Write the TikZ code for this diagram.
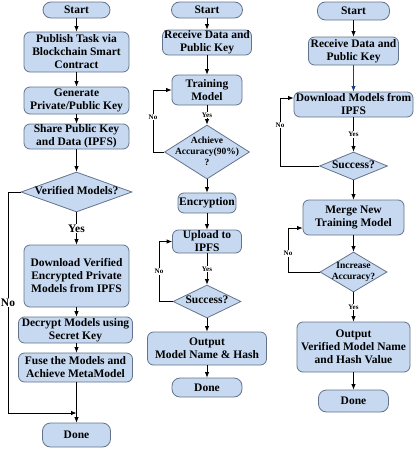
\documentclass[tikz,border=0pt]{standalone}
\usepackage{fontspec}
\setmainfont{Liberation Serif}
\usetikzlibrary{shapes.geometric,arrows.meta}
\definecolor{boxfill}{HTML}{C6D9F1}
\definecolor{boxline}{HTML}{64738C}
\definecolor{navyarrow}{HTML}{1F3C88}
\newcommand{\dtxt}[1]{\smash{\makebox[0pt]{\raisebox{-0.25em}{\begin{tabular}{@{}c@{}}#1\end{tabular}}}}}
\newcommand{\mainf}{\bfseries\fontsize{11.5}{13}\selectfont}
\newcommand{\smallf}{\bfseries\fontsize{9.5}{11}\selectfont}
\newcommand{\tinyf}{\bfseries\fontsize{7}{8}\selectfont}
\tikzset{
  box/.style={draw=boxline, fill=boxfill, line width=0.8pt, rounded corners=6pt,
    align=center, inner xsep=1pt, inner ysep=0.5pt, font=\mainf},
  pill/.style={box, rounded corners=8pt},
  dia/.style={diamond, draw=boxline, fill=boxfill, line width=0.8pt, inner sep=0pt, font=\mainf},
  arr/.style={-{Latex[length=5.5pt,width=4.5pt]}, line width=0.8pt},
  lbl/.style={fill=white, inner sep=1pt, font=\mainf},
  lbls/.style={fill=white, inner sep=0.8pt, font=\tinyf}
}
\begin{document}
\begin{tikzpicture}[x=1pt,y=-1pt]
\useasboundingbox (0,0) rectangle (416,450);
% column 1
\node[pill, minimum width=67, minimum height=16] (s1) at (76.5,10) {Start};
\node[box, minimum width=105, minimum height=40] (p1) at (76.5,52) {Publish Task via\\Blockchain Smart\\Contract};
\node[box, minimum width=105, minimum height=27] (g1) at (76.5,100.5) {Generate\\Private/Public Key};
\node[box, minimum width=105, minimum height=25] (sh1) at (76.5,136.5) {Share Public Key\\and Data (IPFS)};
\node[dia, minimum width=111, minimum height=40] (d1) at (76.5,192) {\dtxt{Verified Models?}};
\node[box, minimum width=105, minimum height=62] (dl1) at (76.5,276) {Download Verified\\Encrypted Private\\Models from IPFS};
\node[box, minimum width=114, minimum height=26] (dc1) at (75.5,330) {Decrypt Models using\\Secret Key};
\node[box, minimum width=114, minimum height=29] (f1) at (75.5,367.5) {Fuse the Models and\\Achieve MetaModel};
\node[pill, minimum width=68, minimum height=24] (e1) at (76.5,435) {Done};
\coordinate (c1a) at (8,192);
\coordinate (c1b) at (8,413);
\coordinate (j1) at (76.5,413);
\draw[arr] (s1) -- (p1);
\draw[arr] (p1) -- (g1);
\draw[arr] (g1) -- (sh1);
\draw[arr] (sh1) -- (d1);
\draw[arr] (d1) -- node[lbl]{Yes} (dl1);
\draw[arr] (dl1) -- (dl1 |- dc1.north);
\draw[arr] (dl1 |- dc1.south) -- (dl1 |- f1.north);
\draw[arr] (dl1 |- f1.south) -- (e1);
\draw[arr] (d1.west) -- (c1a) -- node[lbl]{No} (c1b) -- (j1);
% column 2
\node[pill, minimum width=71, minimum height=16] (s2) at (207,10) {Start};
\node[box, minimum width=89, minimum height=25] (r2) at (207,42.5) {Receive Data and\\Public Key};
\node[box, minimum width=70, minimum height=30] (t2) at (207,90) {Training\\Model};
\node[dia, minimum width=85, minimum height=54, font=\smallf] (a2) at (207,152) {\dtxt{Achieve\\Accuracy(90\%)\\?}};
\node[box, minimum width=58, minimum height=20] (en2) at (207,203) {Encryption};
\node[box, minimum width=69, minimum height=23] (u2) at (207,241.5) {Upload to\\IPFS};
\node[dia, minimum width=68, minimum height=33] (su2) at (207,301.5) {\dtxt{Success?}};
\node[box, minimum width=119, minimum height=33] (o2) at (207,348.5) {Output\\Model Name \& Hash};
\node[pill, minimum width=70, minimum height=19] (e2) at (207,387.5) {Done};
\coordinate (c2a) at (153,152);
\coordinate (c2b) at (159,301.5);
\draw[arr] (s2) -- (r2);
\draw[arr] (r2) -- (t2);
\draw[arr] (t2) -- node[lbls]{Yes} (a2);
\draw[arr] (a2) -- (en2);
\draw[arr] (en2) -- (u2);
\draw[arr] (u2) -- node[lbls]{Yes} (su2);
\draw[arr] (su2) -- (o2);
\draw[arr] (o2) -- (e2);
\draw[arr] (a2.west) -- (c2a) |- node[lbls, pos=0.28]{No} (t2.west);
\draw[arr] (su2.west) -- (c2b) |- node[lbls, pos=0.25]{No} (u2.west);
% column 3
\node[pill, minimum width=72, minimum height=18] (s3) at (353.5,11) {Start};
\node[box, minimum width=90, minimum height=28] (r3) at (353.5,51) {Receive Data and\\Public Key};
\node[box, minimum width=119, minimum height=25] (dm3) at (353.5,104.5) {Download Models from\\IPFS};
\node[dia, minimum width=68, minimum height=28] (su3) at (353.5,166) {\dtxt{Success?}};
\node[box, minimum width=101, minimum height=35] (m3) at (353.5,217.5) {Merge New\\Training Model};
\node[dia, minimum width=67, minimum height=40, font=\smallf] (i3) at (353.5,272) {\dtxt{Increase\\Accuracy?}};
\node[box, minimum width=113, minimum height=50] (o3) at (353.5,347) {Output\\Verified Model Name\\and Hash Value};
\node[pill, minimum width=70, minimum height=22] (e3) at (353.5,401) {Done};
\coordinate (c3a) at (280,166);
\coordinate (c3b) at (288,272);
\draw[arr] (s3) -- (r3);
\draw[arr, navyarrow] (r3) -- (dm3);
\draw[arr] (dm3) -- node[lbls]{Yes} (su3);
\draw[arr] (su3) -- (m3);
\draw[arr] (m3) -- (i3);
\draw[arr] (i3) -- node[lbls]{Yes} (o3);
\draw[arr] (o3) -- (e3);
\draw[arr] (su3.west) -- (c3a) |- node[lbls, pos=0.3]{No} ([yshift=6.5pt]dm3.west);
\draw[arr] (i3.west) -- (c3b) |- node[lbls, pos=0.21]{No} ([yshift=-10.5pt]m3.west);
\end{tikzpicture}
\end{document}
